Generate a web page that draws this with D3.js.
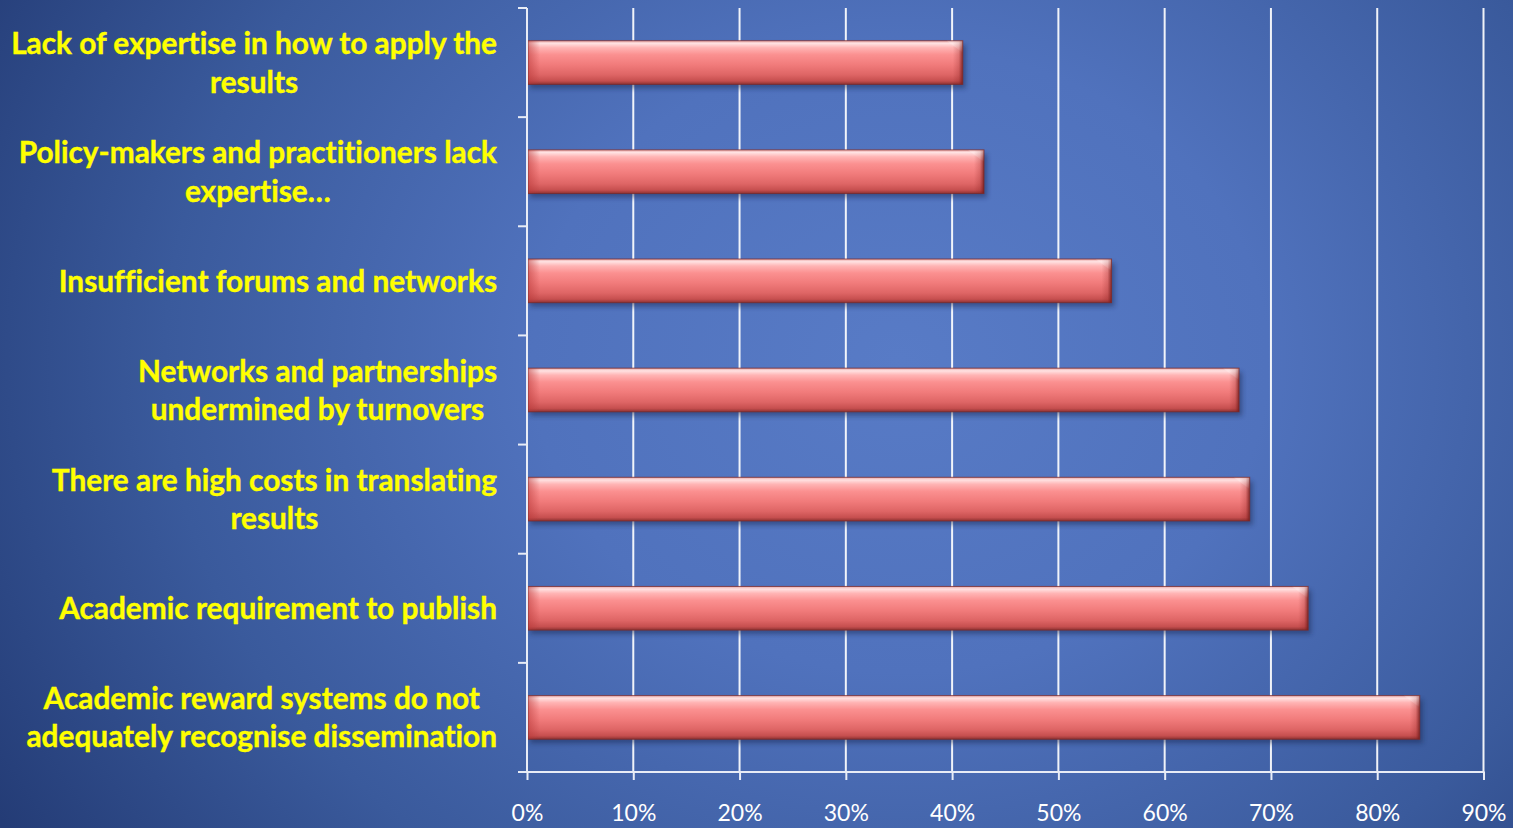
<!DOCTYPE html>
<html>
<head>
<meta charset="utf-8">
<script src="https://cdn.jsdelivr.net/npm/d3@7"></script>
<style>
  html, body { margin: 0; padding: 0; overflow: hidden; background: #2b4580; }
  svg { display: block; }
  text { font-variant-ligatures: none; font-feature-settings: "liga" 0, "clig" 0; }
</style>
</head>
<body>
<svg id="chart" width="1513" height="828"></svg>
<script>
// Barriers to dissemination, share of respondents (top to bottom as shown)
const categories = [
  ["Lack of expertise in how to apply the", "results"],
  ["Policy-makers and practitioners lack", "expertise\u2026"],
  ["Insufficient forums and networks"],
  ["Networks and partnerships", "undermined by turnovers"],
  ["There are high costs in translating", "results"],
  ["Academic requirement to publish"],
  ["Academic reward systems do not", "adequately recognise dissemination"]
];
const values = [41, 43, 55, 67, 68, 73.5, 84];
const tickValues = [0, 10, 20, 30, 40, 50, 60, 70, 80, 90];

const W = 1513, H = 828;
const margin = { left: 527, right: 30, top: 8, bottom: 56 };
const svg = d3.select("#chart");
const defs = svg.append("defs");

// Background: soft radial blue
const bg = defs.append("radialGradient").attr("id", "bg")
  .attr("gradientUnits", "userSpaceOnUse")
  .attr("cx", 900).attr("cy", 360).attr("r", 1050)
  .attr("gradientTransform", "translate(900,360) scale(1,0.85) translate(-900,-360)");
bg.append("stop").attr("offset", 0).attr("stop-color", "#587bc6");
bg.append("stop").attr("offset", 0.35).attr("stop-color", "#5072bd");
bg.append("stop").attr("offset", 0.7).attr("stop-color", "#3a5a9c");
bg.append("stop").attr("offset", 1).attr("stop-color", "#243c76");
svg.append("rect").attr("width", W).attr("height", H).attr("fill", "url(#bg)");

// Bar body gradient (top highlight to darker base)
const barGrad = defs.append("linearGradient").attr("id", "barGrad")
  .attr("x1", 0).attr("y1", 0).attr("x2", 0).attr("y2", 1);
[[0, "#e9a7a7"], [0.06, "#ffe2e2"], [0.16, "#ffb4b4"], [0.32, "#fb9090"],
 [0.55, "#f17b7b"], [0.78, "#de6565"], [0.92, "#c64f4f"], [1, "#8e3232"]]
  .forEach(([o, c]) => barGrad.append("stop").attr("offset", o).attr("stop-color", c));

// Right end bevel
const endGrad = defs.append("linearGradient").attr("id", "endGrad")
  .attr("x1", 0).attr("y1", 0).attr("x2", 1).attr("y2", 0);
endGrad.append("stop").attr("offset", 0).attr("stop-color", "#8a2222").attr("stop-opacity", 0);
endGrad.append("stop").attr("offset", 0.6).attr("stop-color", "#8a2222").attr("stop-opacity", 0.25);
endGrad.append("stop").attr("offset", 1).attr("stop-color", "#6e1a1a").attr("stop-opacity", 0.85);

// Top-right corner sheen
const capGrad = defs.append("linearGradient").attr("id", "capGrad")
  .attr("x1", 0).attr("y1", 0).attr("x2", 0).attr("y2", 1);
capGrad.append("stop").attr("offset", 0).attr("stop-color", "#fff0f0").attr("stop-opacity", 0.45);
capGrad.append("stop").attr("offset", 1).attr("stop-color", "#fff0f0").attr("stop-opacity", 0);

// Left end bevel
const startGrad = defs.append("linearGradient").attr("id", "startGrad")
  .attr("x1", 0).attr("y1", 0).attr("x2", 1).attr("y2", 0);
startGrad.append("stop").attr("offset", 0).attr("stop-color", "#b83838").attr("stop-opacity", 0.55);
startGrad.append("stop").attr("offset", 1).attr("stop-color", "#b83838").attr("stop-opacity", 0);

const shadow = defs.append("filter").attr("id", "shadow")
  .attr("x", "-5%").attr("y", "-30%").attr("width", "110%").attr("height", "170%");
shadow.append("feGaussianBlur").attr("stdDeviation", 2.5);

const x = d3.scaleLinear().domain([0, 90]).range([margin.left, 1483.5]);
const y = d3.scaleBand().domain(d3.range(categories.length))
  .range([margin.top, H - margin.bottom])
  .paddingInner(0.6).paddingOuter(0.3);

const plotTop = margin.top, plotBottom = H - margin.bottom;
const axisColor = "#e8ecf6";

// Vertical gridlines
svg.append("g").selectAll("line").data(tickValues.slice(1)).join("line")
  .attr("x1", d => x(d)).attr("x2", d => x(d))
  .attr("y1", plotTop).attr("y2", plotBottom)
  .attr("stroke", "#ffffff").attr("stroke-width", 2).attr("stroke-opacity", 0.92);

// Bars
const bars = svg.append("g").selectAll("g").data(values).join("g");
bars.append("rect")
  .attr("x", x(0) + 3).attr("y", (d, i) => y(i) + 4)
  .attr("width", d => x(d) - x(0)).attr("height", y.bandwidth())
  .attr("fill", "#14224a").attr("opacity", 0.45).attr("filter", "url(#shadow)");
bars.append("rect")
  .attr("x", x(0) + 1).attr("y", (d, i) => y(i))
  .attr("width", d => x(d) - x(0) - 1).attr("height", y.bandwidth())
  .attr("fill", "url(#barGrad)");
bars.append("rect")
  .attr("x", x(0) + 1).attr("y", (d, i) => y(i))
  .attr("width", 12).attr("height", y.bandwidth())
  .attr("fill", "url(#startGrad)");
bars.append("rect")
  .attr("x", d => x(d) - 10).attr("y", (d, i) => y(i))
  .attr("width", 10).attr("height", y.bandwidth())
  .attr("fill", "url(#endGrad)");
bars.append("path")
  .attr("d", (d, i) => {
    const x1 = x(d), y0 = y(i);
    return `M${x1 - 16},${y0} L${x1},${y0} L${x1},${y0 + 12} Z`;
  })
  .attr("fill", "url(#capGrad)");
bars.append("rect")
  .attr("x", x(0) + 1).attr("y", (d, i) => y(i))
  .attr("width", d => x(d) - x(0) - 1).attr("height", y.bandwidth())
  .attr("fill", "none").attr("stroke", "#7a2a2a").attr("stroke-width", 1).attr("stroke-opacity", 0.75);

// Left axis line with category separator ticks
svg.append("line")
  .attr("x1", x(0)).attr("x2", x(0)).attr("y1", plotTop).attr("y2", plotBottom)
  .attr("stroke", axisColor).attr("stroke-width", 2);
const sepY = d3.range(categories.length + 1).map(i => y.range()[0] + i * y.step());
svg.append("g").selectAll("line").data(sepY).join("line")
  .attr("x1", x(0) - 9).attr("x2", x(0)).attr("y1", d => d).attr("y2", d => d)
  .attr("stroke", axisColor).attr("stroke-width", 2);

// Bottom axis
const xAxis = svg.append("g").attr("transform", `translate(0,${plotBottom})`)
  .call(d3.axisBottom(x).tickValues(tickValues).tickFormat(d => d + "%").tickSize(8).tickPadding(25));
xAxis.select(".domain").remove();
xAxis.insert("line", ":first-child")
  .attr("x1", x(0) - 9).attr("x2", x(90) + 1).attr("y1", 0).attr("y2", 0)
  .attr("stroke", axisColor).attr("stroke-width", 2);
xAxis.selectAll(".tick line").attr("stroke", axisColor).attr("stroke-width", 2);
xAxis.selectAll(".tick text")
  .attr("fill", "#ffffff")
  .style("font-family", "Lato, 'Open Sans', sans-serif")
  .style("font-size", "23px");

// Category labels: lines centred on each other, block right-aligned at 497
const labelFont = "Lato, 'Open Sans', sans-serif";
const probe = svg.append("text").style("font-family", labelFont)
  .style("font-weight", 700).style("font-size", "28px").text(categories[0][0]);
const fontSize = 28 * 486 / probe.node().getComputedTextLength();
probe.remove();

const lineGap = 38.4;
const labels = svg.append("g");
categories.forEach((lines, i) => {
  const cy = y(i) + y.bandwidth() / 2;
  const g = labels.append("g");
  const texts = lines.map((ln, j) => g.append("text")
    .attr("text-anchor", "middle")
    .attr("y", cy + (j - (lines.length - 1) / 2) * lineGap + fontSize * 0.36)
    .attr("fill", "#ffff00")
    .attr("stroke", "#ffff00").attr("stroke-width", 0.4)
    .style("font-family", labelFont).style("font-weight", 700)
    .style("font-size", fontSize + "px")
    .text(ln));
  const maxW = d3.max(texts, t => t.node().getComputedTextLength());
  texts.forEach(t => t.attr("x", 497 - maxW / 2));
});
</script>
</body>
</html>
